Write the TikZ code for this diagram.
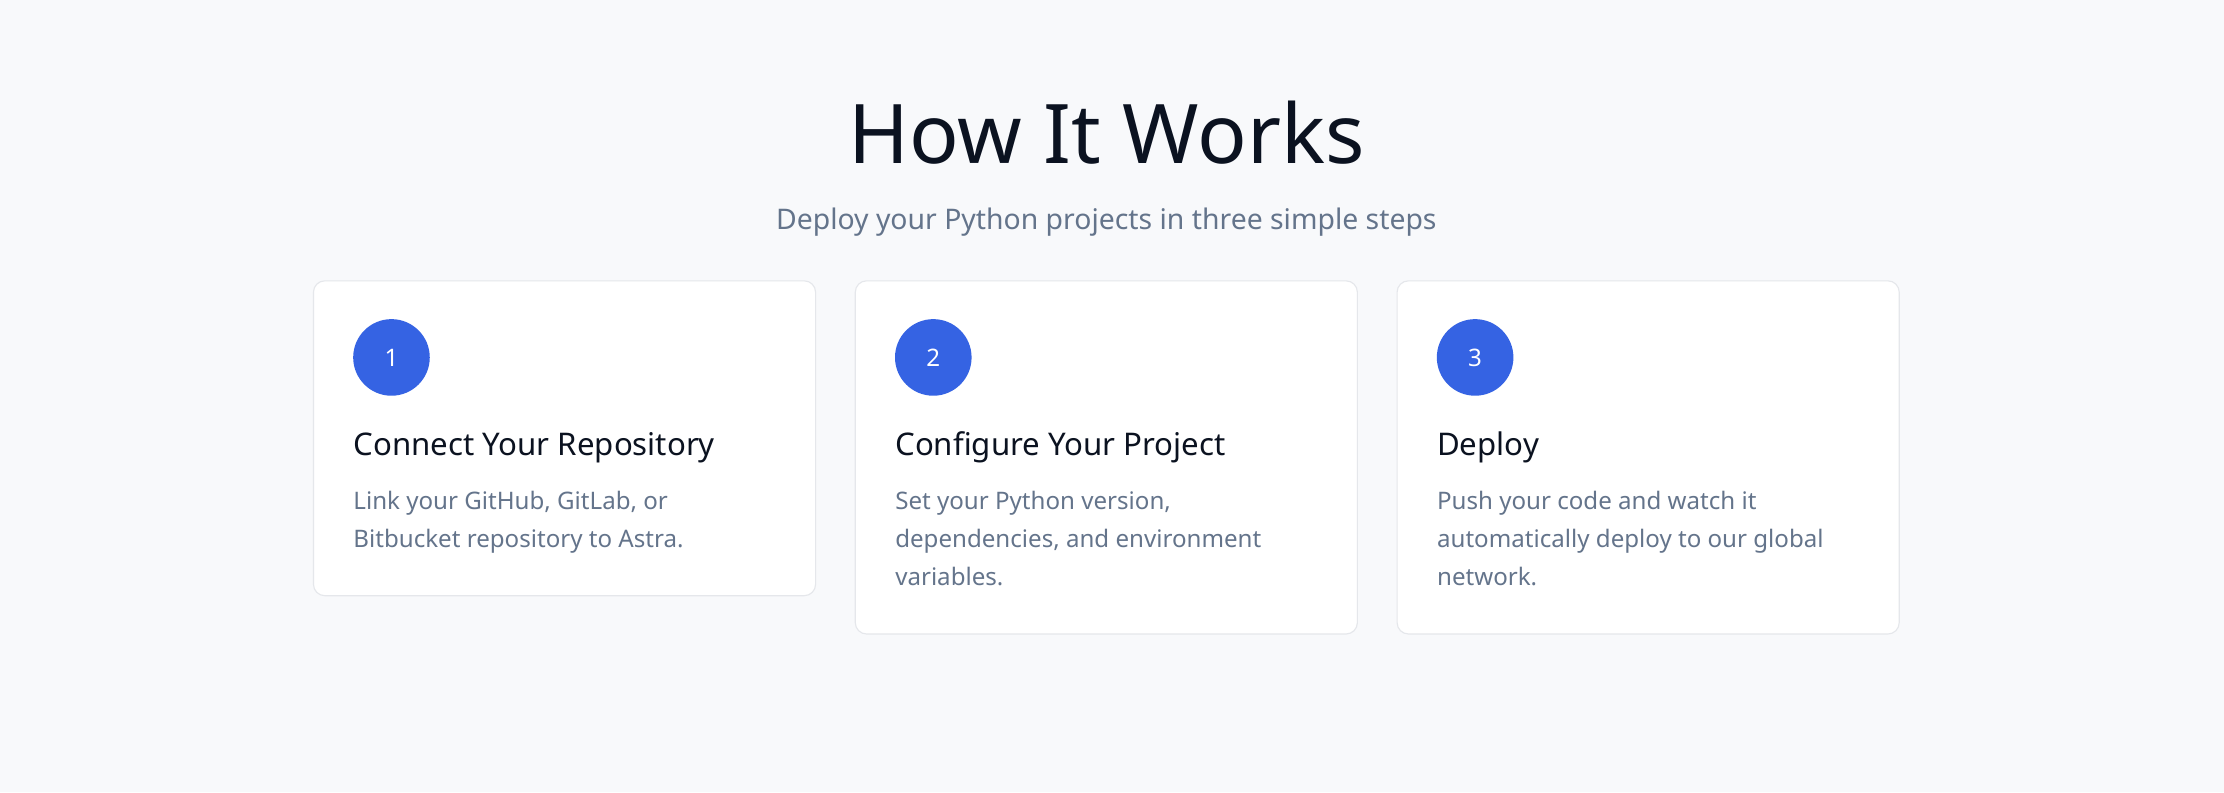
\documentclass[tikz,border=0pt]{standalone}
\usepackage{fontspec}
\setmainfont{Noto Sans}
\definecolor{bg}{HTML}{F8F9FB}
\definecolor{ink}{HTML}{0B1220}
\definecolor{muted}{HTML}{64748B}
\definecolor{edge}{HTML}{E5E7EB}
\definecolor{blue}{HTML}{3563E3}
\begin{document}
\begin{tikzpicture}[x=1pt,y=-1pt,
  card/.style={draw=edge,fill=white,rounded corners=8pt,line width=0.8pt},
  badge/.style={circle,fill=blue,minimum size=54pt,inner sep=0pt,text=white,font=\fontsize{17}{20}\selectfont},
  head/.style={anchor=base west,inner sep=0pt,text=ink,font=\fontsize{22}{26}\selectfont\bfseries},
  body/.style={anchor=base west,inner sep=0pt,text=muted,font=\fontsize{17}{20}\selectfont}]
\fill[bg] (0,0) rectangle (1568,558.5);
\useasboundingbox (0,0) rectangle (1568,558.5);
\node[anchor=base,inner sep=0pt,text=ink,font=\fontsize{58}{66}\selectfont\bfseries] (title) at (780,115) {How It Works};
\node[anchor=base,inner sep=0pt,text=muted,font=\fontsize{20}{24}\selectfont] (sub) at (780,162) {Deploy your Python projects in three simple steps};
\foreach \i/\x/\h/\t/\a/\b/\c in {
 1/221/420/Connect Your Repository/{Link your GitHub, GitLab, or}/{Bitbucket repository to Astra.}/{},
 2/603/447/Configure Your Project/{Set your Python version,}/{dependencies, and environment}/{variables.},
 3/985/447/Deploy/{Push your code and watch it}/{automatically deploy to our global}/{network.}}{
 \draw[card] (\x,198) rectangle (\x+354,\h);
 \node[badge] (b\i) at (\x+55,252) {\i};
 \node[head] (h\i) at (\x+28,321) {\t};
 \node[body] (l\i a) at (\x+28,359) {\a};
 \node[body] (l\i b) at (\x+28,386) {\b};
 \node[body] (l\i c) at (\x+28,413) {\c};
}
\end{tikzpicture}
\end{document}
